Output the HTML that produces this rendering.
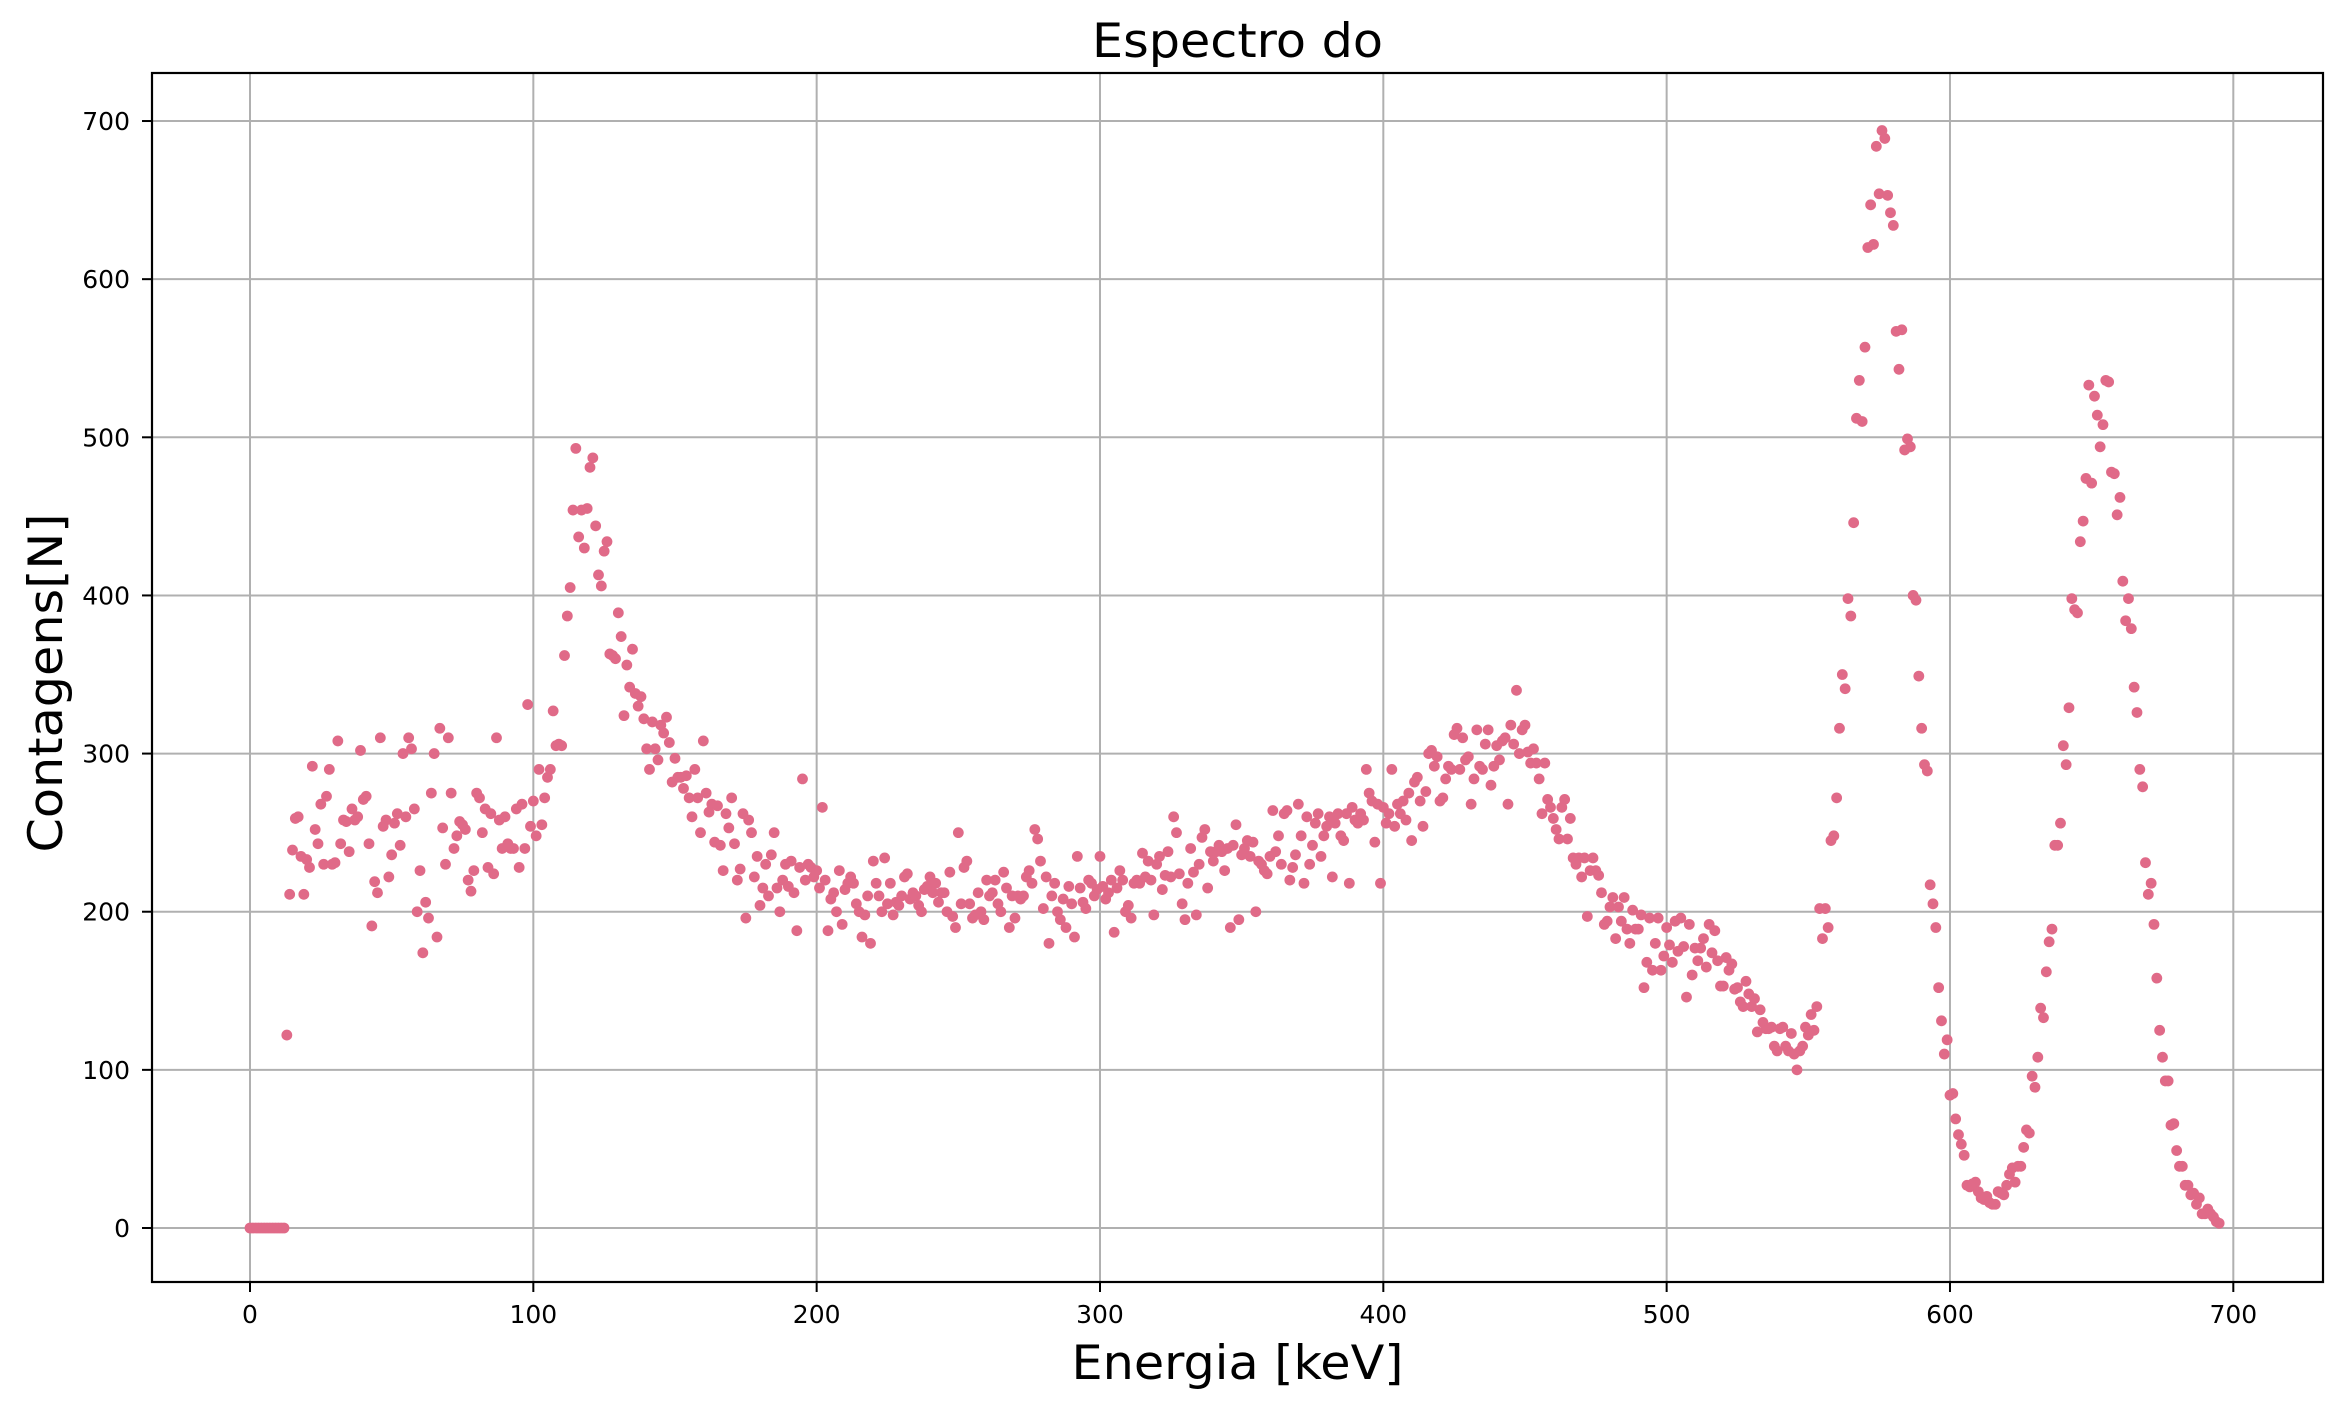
<!DOCTYPE html>
<html><head><meta charset="utf-8"><title>Espectro do</title>
<style>html,body{margin:0;padding:0;background:#fff}svg{display:block}</style></head>
<body>
<svg id="chart" width="2341" height="1409" viewBox="0 0 2341 1409" xmlns="http://www.w3.org/2000/svg" font-family="'DejaVu Sans','Liberation Sans',sans-serif">
<rect x="0" y="0" width="2341" height="1409" fill="#fff"/>
<g id="grid"></g>
<g id="points"></g>
<rect x="152" y="73" width="2171" height="1209" fill="none" stroke="#000" stroke-width="2.2"/>
<g id="ticks"></g>
<text x="1237.5" y="57" text-anchor="middle" font-size="47" textLength="291" lengthAdjust="spacingAndGlyphs">Espectro do</text>
<text x="1237.5" y="1379" text-anchor="middle" font-size="47" textLength="332" lengthAdjust="spacingAndGlyphs">Energia [keV]</text>
<text x="0" y="0" text-anchor="middle" font-size="47" textLength="339" lengthAdjust="spacingAndGlyphs" transform="translate(62,683) rotate(-90)">Contagens[N]</text>
</svg>
<script>
const xTicks = [0,100,200,300,400,500,600,700];
const yTicks = [0,100,200,300,400,500,600,700];
const xTickLabels = ["0","100","200","300","400","500","600","700"];
const yTickLabels = ["0","100","200","300","400","500","600","700"];
const energyStart = 0;
const energyStep = 1;
const counts = [
0,0,0,0,0,0,0,0,0,0,0,0,0,122,211,239,259,260,235,211,
233,228,292,252,243,268,230,273,290,230,231,308,243,258,257,238,265,258,260,302,
271,273,243,191,219,212,310,254,258,222,236,256,262,242,300,260,310,303,265,200,
226,174,206,196,275,300,184,316,253,230,310,275,240,248,257,255,252,220,213,226,
275,272,250,265,228,262,224,310,258,240,260,243,240,240,265,228,268,240,331,254,
270,248,290,255,272,285,290,327,305,306,305,362,387,405,454,493,437,454,430,455,
481,487,444,413,406,428,434,363,362,360,389,374,324,356,342,366,338,330,336,322,
303,290,320,303,296,318,313,323,307,282,297,285,285,278,286,272,260,290,272,250,
308,275,263,268,244,267,242,226,262,253,272,243,220,227,262,196,258,250,222,235,
204,215,230,210,236,250,215,200,220,230,216,232,212,188,228,284,220,230,228,222,
226,215,266,220,188,208,212,200,226,192,214,218,222,218,205,200,184,198,210,180,
232,218,210,200,234,205,218,198,206,204,210,222,224,208,212,210,204,200,214,216,
222,212,218,206,212,212,200,225,197,190,250,205,228,232,205,196,198,212,200,195,
220,210,212,220,205,200,225,215,190,210,196,210,208,210,222,226,218,252,246,232,
202,222,180,210,218,200,195,208,190,216,205,184,235,215,206,202,220,218,210,214,
235,216,208,212,220,187,215,226,220,200,204,196,218,220,218,237,222,232,220,198,
230,235,214,223,238,222,260,250,224,205,195,218,240,225,198,230,247,252,215,238,
232,238,242,238,226,240,190,242,255,195,236,240,245,235,244,200,232,230,226,224,
235,264,238,248,230,262,264,220,228,236,268,248,218,260,230,242,256,262,235,248,
254,260,222,256,262,248,245,262,218,266,258,256,262,258,290,275,270,244,268,218,
266,256,262,290,254,268,262,270,258,275,245,282,285,270,254,276,300,302,292,298,
270,272,284,292,290,312,316,290,310,296,298,268,284,315,292,290,306,315,280,292,
305,296,308,310,268,318,306,340,300,315,318,301,294,303,294,284,262,294,271,266,
259,252,246,266,271,246,259,234,230,234,222,234,197,226,234,226,223,212,192,194,
203,209,183,203,194,209,189,180,201,189,189,198,152,168,196,163,180,196,163,172,
190,179,168,194,175,196,178,146,192,160,177,169,177,183,165,192,174,188,169,153,
153,171,163,167,151,152,143,140,156,148,140,145,124,138,130,126,126,127,115,112,
126,127,115,112,123,110,100,112,115,127,122,135,125,140,202,183,202,190,245,248,
272,316,350,341,398,387,446,512,536,510,557,620,647,622,684,654,694,689,653,642,
634,567,543,568,492,499,494,400,397,349,316,293,289,217,205,190,152,131,110,119,
84,85,69,59,53,46,27,26,28,29,23,19,18,20,16,15,15,23,22,21,
27,34,38,29,39,39,51,62,60,96,89,108,139,133,162,181,189,242,242,256,
305,293,329,398,391,389,434,447,474,533,471,526,514,494,508,536,535,478,477,451,
462,409,384,398,379,342,326,290,279,231,211,218,192,158,125,108,93,93,65,66,
49,39,39,27,27,21,22,15,19,9,9,12,9,7,4,3
];

const NS = "http://www.w3.org/2000/svg";
const plot = {left:152, right:2323, top:73, bottom:1282};
function xScale(v){ return 250 + v * 2.8333; }
function yScale(v){ return 1228 - v * 1.5814; }

const grid = document.getElementById('grid');
const ticks = document.getElementById('ticks');
xTicks.forEach((t,i)=>{
  const x = xScale(t);
  const g = document.createElementNS(NS,'line');
  
  
  g.setAttribute('x1',x); g.setAttribute('x2',x);
  g.setAttribute('y1',plot.top); g.setAttribute('y2',plot.bottom);
  g.setAttribute('stroke','#b0b0b0'); g.setAttribute('stroke-width','2');
  grid.appendChild(g);
  const tk = document.createElementNS(NS,'line');
  
  
  tk.setAttribute('x1',x); tk.setAttribute('x2',x);
  tk.setAttribute('y1',plot.bottom); tk.setAttribute('y2',plot.bottom+10);
  tk.setAttribute('stroke','#000'); tk.setAttribute('stroke-width','2');
  ticks.appendChild(tk);
  const lb = document.createElementNS(NS,'text');
  
  
  lb.setAttribute('x',x); lb.setAttribute('y',1323);
  lb.setAttribute('text-anchor','middle'); lb.setAttribute('font-size','25');
  lb.textContent = xTickLabels[i];
  ticks.appendChild(lb);
});
yTicks.forEach((t,i)=>{
  const y = yScale(t);
  const g = document.createElementNS(NS,'line');
  
  
  g.setAttribute('x1',plot.left); g.setAttribute('x2',plot.right);
  g.setAttribute('y1',y); g.setAttribute('y2',y);
  g.setAttribute('stroke','#b0b0b0'); g.setAttribute('stroke-width','2');
  grid.appendChild(g);
  const tk = document.createElementNS(NS,'line');
  
  
  tk.setAttribute('x1',plot.left-10); tk.setAttribute('x2',plot.left);
  tk.setAttribute('y1',y); tk.setAttribute('y2',y);
  tk.setAttribute('stroke','#000'); tk.setAttribute('stroke-width','2');
  ticks.appendChild(tk);
  const lb = document.createElementNS(NS,'text');
  
  
  lb.setAttribute('x',130); lb.setAttribute('y',y+9);
  lb.setAttribute('text-anchor','end'); lb.setAttribute('font-size','25');
  lb.textContent = yTickLabels[i];
  ticks.appendChild(lb);
});
const pts = document.getElementById('points');
counts.forEach((c,i)=>{
  const e = energyStart + i*energyStep;
  const p = document.createElementNS(NS,'circle');
  
  
  p.setAttribute('cx',xScale(e)); p.setAttribute('cy',yScale(c));
  p.setAttribute('r','5.4'); p.setAttribute('fill','#e06a88');
  pts.appendChild(p);
});
</script>
</body></html>
